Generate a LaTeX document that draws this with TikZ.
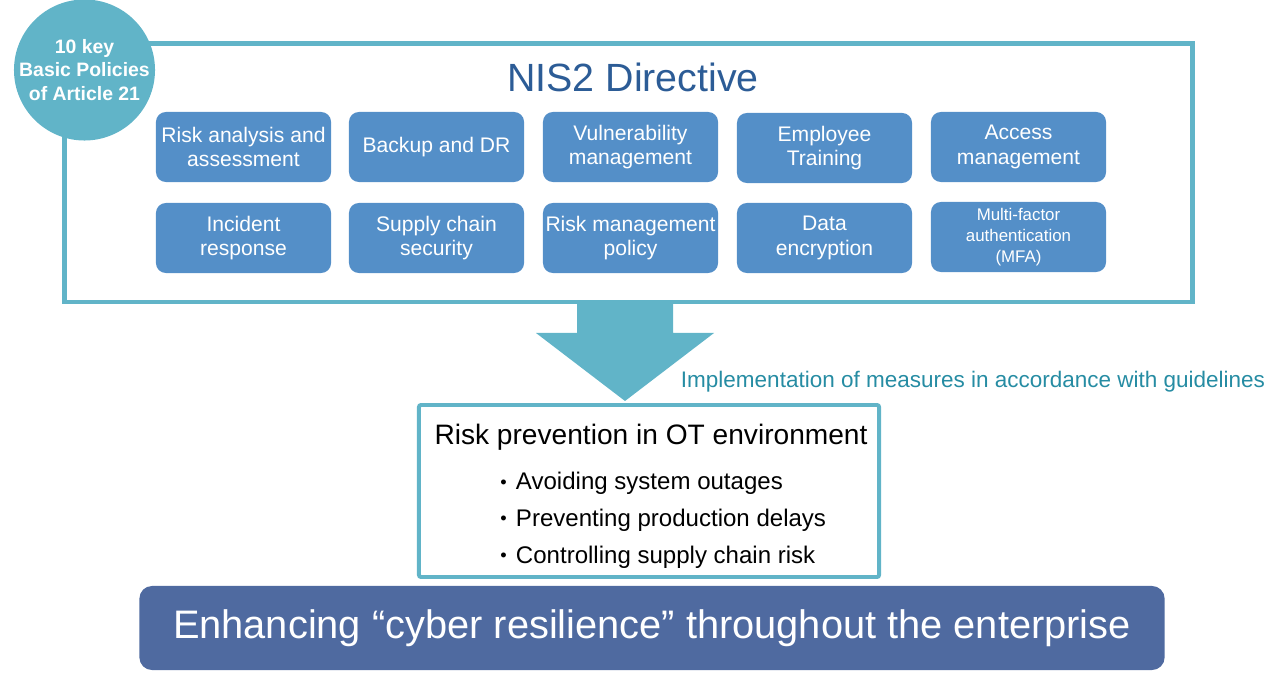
\documentclass[tikz,border=0pt]{standalone}
\usepackage{fontspec}
\setmainfont{Liberation Sans}
\usepackage{tikz}
\usetikzlibrary{positioning, calc}
\definecolor{nisteal}{RGB}{97,180,200}
\definecolor{policyblue}{RGB}{84,143,200}
\definecolor{resilblue}{RGB}{79,106,160}
\definecolor{titleblue}{RGB}{44,92,150}
\definecolor{guidecolor}{RGB}{38,140,163}
\newcommand{\otbullet}{\raisebox{1.2pt}{\fontsize{13}{13}\selectfont•}\hspace{6.6pt}}

\begin{document}
\begin{tikzpicture}[
    x=0.025cm, y=-0.025cm,
    policy/.style={fill=policyblue, rounded corners=7pt, minimum width=4.375cm, minimum height=1.75cm, text=white, font=\fontsize{15}{17.5}\selectfont, align=center, inner sep=1pt},
    frame/.style={draw=nisteal, line width=3.5pt, minimum width=28.175cm, minimum height=6.45cm},
    otbox/.style={draw=nisteal, line width=2.8pt, fill=white, rounded corners=1.5pt, minimum width=11.5cm, minimum height=4.3cm}
]
    \useasboundingbox (0,0) rectangle (1280,674);

    % NIS2 frame and badge
    \node[frame] (nis) at (628.5,173) {};
    \node[circle, fill=nisteal, minimum size=3.525cm, inner sep=0pt] (badge) at (84.5,70) {};
    \node[text=white, align=center, font=\bfseries\fontsize{13.8}{17}\selectfont] (badgetext) at (badge.center) {10 key\\Basic Policies\\of Article 21};
    \node[text=titleblue, font=\fontsize{28}{30}\selectfont] (title) at (633,77) {NIS2 Directive};

    % Policies, first row
    \node[policy] (risk) at (243.5,147) {Risk analysis and\\assessment};
    \node[policy] (backup) at (436.5,147) {Backup and DR};
    \node[policy] (vuln) at (630.5,147) {Vulnerability\\management};
    \node[policy] (train) at (824.5,148) {Employee\\Training};
    \node[policy] (access) at (1018.5,147) {Access\\management};

    % Policies, second row
    \node[policy] (incident) at (243.5,238) {Incident\\response};
    \node[policy] (supply) at (436.5,238) {Supply chain\\security};
    \node[policy] (riskmgmt) at (630.5,238) {Risk management\\policy};
    \node[policy] (crypt) at (824.5,238) {Data\\encryption};
    \node[policy, font=\fontsize{12}{15}\selectfont] (mfa) at (1018.5,237) {Multi-factor\\authentication\\(MFA)};

    % Big arrow down
    \coordinate (atop) at (625,302);
    \coordinate (atip) at (625,401);
    \fill[nisteal] ($(atop)+(-48,0)$) -- ($(atop)+(48,0)$) -- ($(atop)+(48,31)$) -- ($(atop)+(89,31)$)
        -- (atip) -- ($(atop)+(-89,31)$) -- ($(atop)+(-48,31)$) -- cycle;
    \node[anchor=base west, text=guidecolor, font=\fontsize{16}{18}\selectfont] (guide) at (676,388) {Implementation of measures in accordance with guidelines};

    % OT environment
    \node[otbox] (ot) at (649,491) {};
    \node[anchor=base, font=\fontsize{20}{22}\selectfont] (ottitle) at (651,445) {Risk prevention in OT environment};
    \node[anchor=north west, align=left, inner sep=0pt, font=\fontsize{17.1}{26.2}\selectfont] (otlist) at (500,472) {\otbullet Avoiding system outages\\\otbullet Preventing production delays\\\otbullet Controlling supply chain risk};

    % Result
    \node[fill=resilblue, rounded corners=9pt, minimum width=25.625cm, minimum height=2.1cm, text=white, font=\fontsize{28.3}{30}\selectfont] (resil) at (652,628) {Enhancing “cyber resilience” throughout the enterprise};
\end{tikzpicture}
\end{document}
